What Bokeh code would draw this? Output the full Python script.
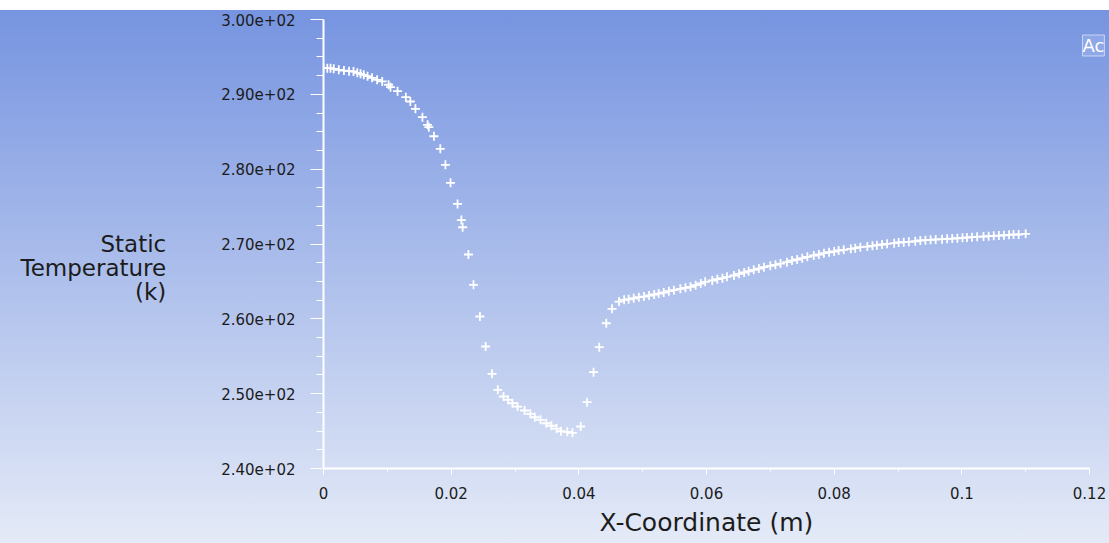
from bokeh.plotting import figure
from bokeh.models import FixedTicker, Label, Range1d, Title
from bokeh.embed import file_html
from bokeh.resources import INLINE

# ---- data ----
x_coord = [0.0000, 0.0006, 0.0011, 0.0016, 0.0024, 0.0032, 0.0040, 0.0047, 0.0053, 0.0058,
           0.0063, 0.0069, 0.0076, 0.0084, 0.0092, 0.0102, 0.0105, 0.0116, 0.0129, 0.0136,
           0.0144, 0.0155, 0.0163, 0.0165, 0.0173, 0.0183, 0.0191, 0.0199, 0.0210, 0.0216,
           0.0218, 0.0227, 0.0235, 0.0245, 0.0254, 0.0264, 0.0273, 0.0282, 0.0289, 0.0296,
           0.0304, 0.0315, 0.0324, 0.0331, 0.0340, 0.0349, 0.0357, 0.0365, 0.0372, 0.0382,
           0.0390, 0.0403, 0.0413, 0.0423, 0.0432, 0.0443, 0.0452,
           0.0463, 0.0471, 0.0478, 0.0486, 0.0494,
           0.0502, 0.0510, 0.0518, 0.0525, 0.0533, 0.0541, 0.0549, 0.0559, 0.0567, 0.0575,
           0.0583, 0.0591, 0.0598, 0.0609, 0.0617, 0.0625, 0.0632, 0.0643, 0.0651, 0.0659,
           0.0666, 0.0674, 0.0682, 0.0690, 0.0700, 0.0708, 0.0716, 0.0726, 0.0734, 0.0742,
           0.0750, 0.0758, 0.0768, 0.0776, 0.0784, 0.0792, 0.0800, 0.0807, 0.0815, 0.0826,
           0.0833, 0.0841, 0.0852, 0.0860, 0.0867, 0.0875, 0.0883, 0.0894, 0.0901, 0.0909,
           0.0917, 0.0927, 0.0935, 0.0943, 0.0951, 0.0959, 0.0969, 0.0977, 0.0985, 0.0993,
           0.1001, 0.1008, 0.1016, 0.1024, 0.1034, 0.1042, 0.1050, 0.1058, 0.1066, 0.1074,
           0.1081, 0.1089, 0.1100]

static_temp = [293.49, 293.49, 293.49, 293.41, 293.28, 293.18, 293.09, 293.05, 292.88, 292.74,
               292.61, 292.42, 292.21, 291.94, 291.72, 291.28, 290.95, 290.42, 289.62, 289.04,
               288.07, 286.95, 285.93, 285.61, 284.40, 282.72, 280.58, 278.18, 275.35, 273.20,
               272.24, 268.60, 264.55, 260.31, 256.30, 252.65, 250.51, 249.62, 249.18, 248.72,
               248.28, 247.75, 247.31, 246.85, 246.51, 246.05, 245.71, 245.34, 244.98, 244.90,
               244.77, 245.61, 248.86, 252.87, 256.21, 259.41, 261.34,
               262.31, 262.54, 262.62, 262.75, 262.89,
               262.98, 263.12, 263.25, 263.38, 263.52, 263.69, 263.83, 264.01, 264.15, 264.28,
               264.50, 264.72, 264.95, 265.12, 265.30, 265.43, 265.62, 265.79, 266.02, 266.19,
               266.36, 266.55, 266.72, 266.90, 267.09, 267.22, 267.39, 267.57, 267.79, 267.93,
               268.10, 268.29, 268.46, 268.60, 268.77, 268.90, 269.00, 269.13, 269.22, 269.36,
               269.44, 269.57, 269.66, 269.76, 269.84, 269.93, 270.02, 270.11, 270.20, 270.24,
               270.29, 270.37, 270.47, 270.51, 270.56, 270.60, 270.64, 270.69, 270.73, 270.77,
               270.83, 270.87, 270.91, 270.96, 271.00, 271.04, 271.09, 271.13, 271.17, 271.23,
               271.27, 271.27, 271.36]

x_ticks = [0, 0.02, 0.04, 0.06, 0.08, 0.1, 0.12]
x_tick_labels = ["0", "0.02", "0.04", "0.06", "0.08", "0.1", "0.12"]
x_minor_ticks = [0.01, 0.03, 0.05, 0.07, 0.09, 0.11]
y_ticks = [240, 250, 260, 270, 280, 290, 300]
y_tick_labels = ["2.40e+02", "2.50e+02", "2.60e+02", "2.70e+02", "2.80e+02", "2.90e+02", "3.00e+02"]
y_minor_ticks = [242.5, 245, 247.5, 252.5, 255, 257.5, 262.5, 265, 267.5,
                 272.5, 275, 277.5, 282.5, 285, 287.5, 292.5, 295, 297.5]
x_title = "X-Coordinate (m)"
y_title_lines = ["Static", "Temperature", "(k)"]
corner_text = "Ac"

FONT = "DejaVu Sans"
TXT = "#1c1c1c"
X_END = 0.12 + 20 * 0.12 / 766   # frame runs 20 px past the last tick, to the window edge

p = figure(width=1109, height=543, output_backend="svg", toolbar_location=None,
           x_range=Range1d(0, X_END), y_range=Range1d(240, 300),
           min_border_left=323, min_border_right=0, min_border_top=19, min_border_bottom=75,
           background_fill_alpha=0, border_fill_alpha=0, outline_line_color=None,
           styles={"background": "linear-gradient(to bottom, #ffffff 0px, #ffffff 10px, #7694e0 10px, #e4eaf7 100%)"})
p.xgrid.visible = False
p.ygrid.visible = False

xa = p.xaxis[0]
xa.bounds = (0, 0.12)
xa.ticker = FixedTicker(ticks=x_ticks, minor_ticks=x_minor_ticks)
xa.major_label_overrides = dict(zip(x_ticks, x_tick_labels))
xa.axis_line_color = "white"
xa.axis_line_width = 2
xa.major_tick_line_color = "white"
xa.major_tick_out = 6
xa.major_tick_in = 0
xa.minor_tick_line_color = "white"
xa.minor_tick_out = 3
xa.minor_tick_in = 0
xa.major_label_text_font = FONT
xa.major_label_text_font_size = "15px"
xa.major_label_text_color = TXT
xa.major_label_standoff = 12

# x title: centred under the axis line (0..0.12), not under the wider frame
p.add_layout(Title(text=x_title, align="left", offset=276, text_font=FONT,
                   text_font_size="25px", text_font_style="normal", text_color=TXT,
                   standoff=9), "below")

ya = p.yaxis[0]
ya.ticker = FixedTicker(ticks=y_ticks, minor_ticks=y_minor_ticks)
ya.major_label_overrides = dict(zip(y_ticks, y_tick_labels))
ya.axis_line_color = "white"
ya.axis_line_width = 2
ya.major_tick_line_color = "white"
ya.major_tick_out = 13
ya.major_tick_in = 0
ya.minor_tick_line_color = "white"
ya.minor_tick_out = 7
ya.minor_tick_in = 0
ya.major_label_text_font = FONT
ya.major_label_text_font_size = "15px"
ya.major_label_text_color = TXT
ya.major_label_standoff = 15
# three right-aligned lines; two blank lines first so "Static" sits at the frame's middle
ya.axis_label = "\n".join([" ", " "] + y_title_lines)
ya.axis_label_orientation = "horizontal"
try:
    ya.axis_label_align = "right"
except Exception:
    pass
ya.axis_label_text_align = "right"
ya.axis_label_text_font = FONT
ya.axis_label_text_font_size = "23px"
ya.axis_label_text_font_style = "normal"
ya.axis_label_text_color = TXT
ya.axis_label_text_line_height = 0.92
ya.axis_label_standoff = 52

p.scatter(x_coord, static_temp, marker="cross", size=9, line_color="white", line_width=1.8)

p.add_layout(Label(x=759, y=423, x_units="screen", y_units="screen", text=corner_text,
                   text_align="left", text_baseline="middle", text_font=FONT,
                   text_font_size="18px", text_color="white",
                   background_fill_color="#9cb3ec", background_fill_alpha=0.55,
                   border_line_color="#e6edfc", border_line_alpha=0.7))

open("out.html", "w").write(file_html(p, INLINE))
